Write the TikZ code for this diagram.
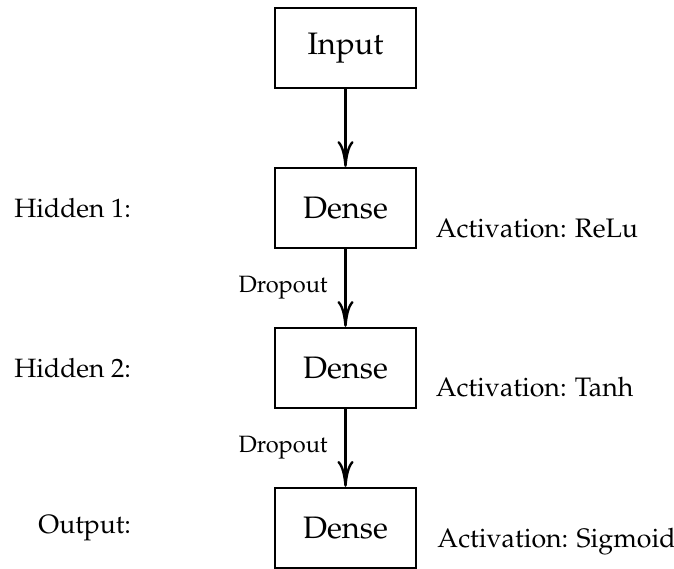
\documentclass[tikz,border=0pt]{standalone}
\usepackage[T1]{fontenc}
\usepackage{mathpazo}
\usetikzlibrary{arrows.meta,positioning}

\begin{document}
\begin{tikzpicture}[
  x=0.464pt, y=-0.464pt,
  node distance=36.2pt and 62.8pt,
  layer/.style={draw, line width=0.9pt, minimum width=65.4pt, minimum height=37.1pt, font=\fontsize{14.4}{17}\selectfont},
  tag/.style={font=\fontsize{12.3}{14}\selectfont},
  act/.style={font=\fontsize{12.4}{14}\selectfont},
  drop/.style={font=\fontsize{10.95}{13}\selectfont},
  arr/.style={-{To[length=12pt,width=7.5pt]}, line width=1.1pt}
]
\useasboundingbox (0,0) rectangle (674,569);

% network layers
\node[layer] (input) at (345.5,48) {Input};
\node[layer, below=of input] (dense1) {Dense};
\node[layer, below=of dense1] (dense2) {Dense};
\node[layer, below=of dense2] (dense3) {Dense};

% layer names
\node[tag, left=of dense1] (hidden1) {Hidden 1:};
\node[tag, left=of dense2] (hidden2) {Hidden 2:};
\node[tag, left=of dense3] (output) {Output:};

% activations
\node[act, right=5.2pt of dense1, anchor=base west, yshift=-13.5pt] (relu) {Activation: ReLu};
\node[act, right=5.2pt of dense2, anchor=base west, yshift=-13.5pt] (tanh) {Activation: Tanh};
\node[act, right=6pt of dense3, anchor=base west, yshift=-9pt] (sigmoid) {Activation: Sigmoid};

\draw[arr] (input) -- (dense1);
\draw[arr] (dense1) -- node[drop, left=4.4pt] (drop1) {Dropout} (dense2);
\draw[arr] (dense2) -- node[drop, left=4.4pt] (drop2) {Dropout} (dense3);
\end{tikzpicture}
\end{document}
